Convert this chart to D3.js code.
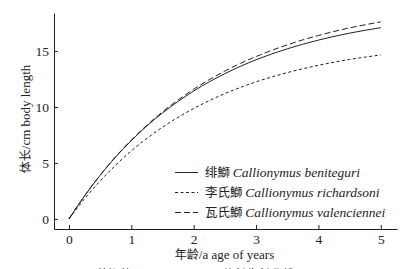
<!DOCTYPE html>
<html>
<head>
<meta charset="utf-8">
<script src="https://cdn.jsdelivr.net/npm/d3@7"></script>
<style>
  body { margin: 0; background: #fff; }
  text { font-family: "Liberation Serif", "Times New Roman", serif; fill: #222; }
  .cjk { font-family: "Noto Sans CJK SC", serif; }
</style>
</head>
<body>
<svg id="chart" width="404" height="269"></svg>
<script>
// age in years
var ages = [0, 0.25, 0.5, 0.75, 1, 1.25, 1.5, 1.75, 2, 2.25, 2.5, 2.75, 3, 3.25, 3.5, 3.75, 4, 4.25, 4.5, 4.75, 5];
// body length (cm)
var beniteguri = [0, 2.06, 3.90, 5.54, 7.00, 8.31, 9.47, 10.50, 11.43, 12.25, 12.98, 13.64, 14.22, 14.74, 15.20, 15.61, 15.98, 16.31, 16.60, 16.86, 17.09];
var richardsoni = [0, 1.80, 3.39, 4.81, 6.08, 7.20, 8.20, 9.08, 9.87, 10.57, 11.20, 11.75, 12.25, 12.68, 13.07, 13.42, 13.73, 14.00, 14.25, 14.46, 14.65];
var valenciennei = [0, 2.06, 3.91, 5.57, 7.05, 8.38, 9.57, 10.63, 11.59, 12.44, 13.21, 13.90, 14.51, 15.06, 15.55, 16.00, 16.39, 16.75, 17.07, 17.35, 17.61];
var xTicks = [0, 1, 2, 3, 4, 5];
var yTicks = [0, 5, 10, 15];
var seriesNames = [
  { cn: "绯鰤", la: "Callionymus beniteguri", dash: null, values: beniteguri },
  { cn: "李氏鰤", la: "Callionymus richardsoni", dash: "3,2.5", values: richardsoni },
  { cn: "瓦氏鰤", la: "Callionymus valenciennei", dash: "6,3", values: valenciennei }
];

var svg = d3.select("#chart");
var plotL = 54, plotR = 397, plotT = 13, plotB = 229;

var x = d3.scaleLinear().domain([-0.24, 5.26]).range([plotL, plotR]);
var y = d3.scaleLinear().domain([-0.9, 18.4]).range([plotB, plotT]);

// axes, ticks pointing inward
var xAxis = d3.axisBottom(x).tickValues(xTicks).tickFormat(d3.format("d"))
  .tickSizeInner(-4).tickSizeOuter(0).tickPadding(5);
var yAxis = d3.axisLeft(y).tickValues(yTicks).tickFormat(d3.format("d"))
  .tickSizeInner(-4).tickSizeOuter(0).tickPadding(5);

var gx = svg.append("g").attr("transform", "translate(0," + plotB + ")").call(xAxis);
var gy = svg.append("g").attr("transform", "translate(" + plotL + ",0)").call(yAxis);
[gx, gy].forEach(function(g) {
  g.select(".domain").attr("stroke", "#222");
  g.selectAll(".tick line").attr("stroke", "#222");
  g.selectAll(".tick text")
    .style("font-family", "'Liberation Serif', serif")
    .style("font-size", "13.5px")
    .attr("fill", "#222");
});

var line = d3.line()
  .x(function(d, i) { return x(ages[i]); })
  .y(function(d) { return y(d); })
  .curve(d3.curveMonotoneX);

seriesNames.forEach(function(s) {
  svg.append("path")
    .attr("d", line(s.values))
    .attr("fill", "none")
    .attr("stroke", "#222")
    .attr("stroke-width", 1)
    .attr("stroke-dasharray", s.dash);
});

// legend
var legend = svg.append("g");
seriesNames.forEach(function(s, i) {
  var ly = 172.5 + i * 20;
  legend.append("line")
    .attr("x1", 175).attr("x2", 198)
    .attr("y1", ly).attr("y2", ly)
    .attr("stroke", "#222")
    .attr("stroke-dasharray", s.dash);
  var t = legend.append("text")
    .attr("x", 205).attr("y", ly + 4.5)
    .style("font-size", "13.5px");
  t.append("tspan").attr("class", "cjk").style("font-size", "12.5px").text(s.cn + " ");
  t.append("tspan").style("font-style", "italic").text(s.la);
});

// axis titles
var xt = svg.append("text")
  .attr("x", (plotL + plotR) / 2 - 1)
  .attr("y", 259)
  .attr("text-anchor", "middle")
  .style("font-size", "13px");
xt.append("tspan").attr("class", "cjk").style("font-size", "12px").text("年龄");
xt.append("tspan").text("/a age of years");

var yt = svg.append("text")
  .attr("transform", "translate(30," + ((plotT + plotB) / 2 - 2) + ") rotate(-90)")
  .attr("text-anchor", "middle")
  .style("font-size", "13px");
yt.append("tspan").attr("class", "cjk").style("font-size", "12px").text("体长");
yt.append("tspan").text("/cm body length");

// caption, cut off by the bottom edge
svg.append("text")
  .attr("class", "cjk")
  .attr("x", 56).attr("y", 279)
  .style("font-size", "12px")
  .text("图 3　3种鰤的 von Bertalanffy 体长生长曲线");
</script>
</body>
</html>
